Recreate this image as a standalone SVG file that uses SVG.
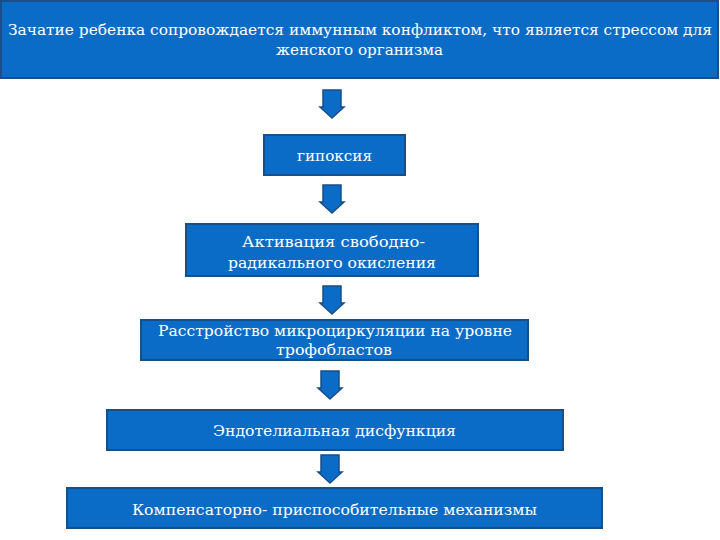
<svg xmlns="http://www.w3.org/2000/svg" width="720" height="540" viewBox="0 0 720 540">
<style>
.box{fill:#0b6cc8;stroke:#1a4e86;stroke-width:2}
.t{font-family:"DejaVu Serif","Liberation Serif",serif;fill:#ffffff;text-anchor:middle;font-size:15px;lengthAdjust:spacingAndGlyphs}
.arr{fill:#0b6cc8;stroke:#1a4e86;stroke-width:1.5}
</style>
<rect width="720" height="540" fill="#ffffff"/>
<defs>
<path id="arrow" d="M-9,0 H9 V17 H12 L0,28 L-12,17 H-9 Z"/>
</defs>
<g id="connectors">
<use href="#arrow" class="arr" x="332" y="90"/>
<use href="#arrow" class="arr" x="332" y="185"/>
<use href="#arrow" class="arr" x="332" y="286"/>
<use href="#arrow" class="arr" x="330" y="371"/>
<use href="#arrow" class="arr" x="330" y="455"/>
</g>
<g id="n1">
<rect class="box" x="1" y="1" width="717" height="77"/>
<text class="t" x="360" y="35" textLength="704" lengthAdjust="spacingAndGlyphs">Зачатие ребенка сопровождается иммунным конфликтом, что является стрессом для</text>
<text class="t" x="359.5" y="55" textLength="167" lengthAdjust="spacingAndGlyphs">женского организма</text>
</g>
<g id="n2">
<rect class="box" x="264" y="135" width="141" height="40"/>
<text class="t" x="334.5" y="161" textLength="75" lengthAdjust="spacingAndGlyphs">гипоксия</text>
</g>
<g id="n3">
<rect class="box" x="186" y="224" width="292" height="52"/>
<text class="t" x="333.5" y="247" textLength="183" lengthAdjust="spacingAndGlyphs">Активация свободно-</text>
<text class="t" x="332" y="268" textLength="208" lengthAdjust="spacingAndGlyphs">радикального окисления</text>
</g>
<g id="n4">
<rect class="box" x="141" y="320" width="387" height="40"/>
<text class="t" x="335" y="336" textLength="354" lengthAdjust="spacingAndGlyphs">Расстройство микроциркуляции на уровне</text>
<text class="t" x="334" y="355" textLength="116" lengthAdjust="spacingAndGlyphs">трофобластов</text>
</g>
<g id="n5">
<rect class="box" x="107" y="410" width="456" height="40"/>
<text class="t" x="334.5" y="436" textLength="243" lengthAdjust="spacingAndGlyphs">Эндотелиальная дисфункция</text>
</g>
<g id="n6">
<rect class="box" x="67" y="488" width="535" height="40"/>
<text class="t" x="334.5" y="515" textLength="405" lengthAdjust="spacingAndGlyphs">Компенсаторно- приспособительные механизмы</text>
</g>
</svg>
